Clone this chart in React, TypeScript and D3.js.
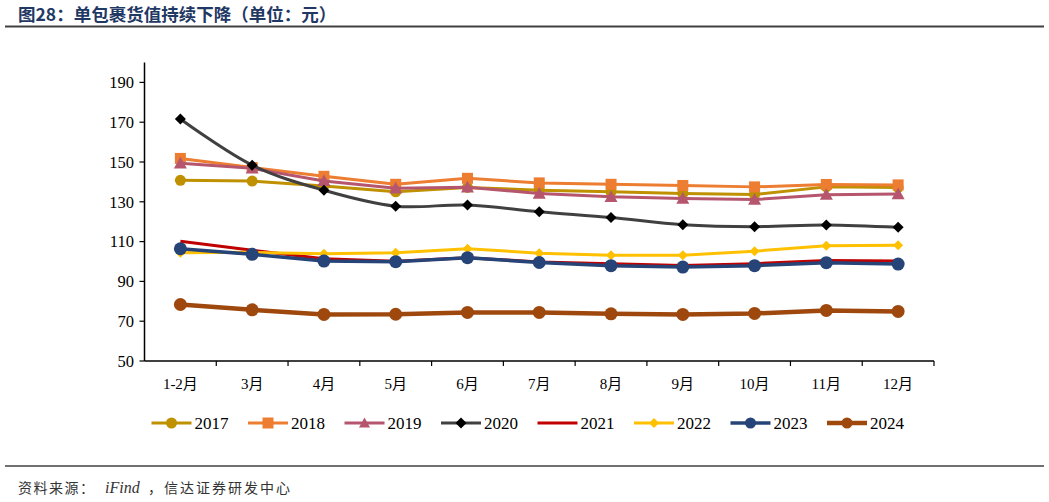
import React from "react";
import * as d3 from "d3";

const categories = ["1-2月", "3月", "4月", "5月", "6月", "7月", "8月", "9月", "10月", "11月", "12月"];
const yTicks = [50, 70, 90, 110, 130, 150, 170, 190];

const v2017 = [140.8, 140.4, 138.0, 135.0, 137.2, 135.8, 135.0, 134.2, 133.7, 137.5, 137.2];
const v2018 = [151.8, 147.2, 142.8, 138.8, 141.8, 139.5, 138.8, 138.2, 137.5, 138.7, 138.5];
const v2019 = [149.4, 146.8, 140.5, 136.8, 137.3, 134.2, 132.5, 131.6, 131.1, 133.6, 133.9];
const v2020 = [171.6, 148.4, 135.8, 127.8, 128.4, 125.0, 122.1, 118.5, 117.5, 118.4, 117.2];
const v2021 = [110.2, 105.6, 101.4, 100.1, 101.9, 99.8, 98.9, 98.0, 98.9, 100.5, 100.2];
const v2022 = [104.4, 104.6, 103.9, 104.4, 106.4, 104.2, 103.2, 103.2, 105.2, 107.9, 108.2];
const v2023 = [106.4, 103.6, 100.2, 99.9, 101.9, 99.5, 97.9, 97.2, 97.9, 99.4, 98.7];
const v2024 = [78.4, 75.7, 73.4, 73.5, 74.4, 74.4, 73.7, 73.4, 73.9, 75.4, 74.9];

type Marker = "circle" | "square" | "triangle" | "diamond" | "none";
interface Series { name: string; values: number[]; color: string; markerColor: string; marker: Marker; size: number; width: number; smooth: boolean; }

const series: Series[] = [
  { name: "2017", values: v2017, color: "#BF9000", markerColor: "#BF9000", marker: "circle", size: 5.5, width: 3, smooth: false },
  { name: "2018", values: v2018, color: "#ED7D31", markerColor: "#ED7D31", marker: "square", size: 5.5, width: 3, smooth: false },
  { name: "2019", values: v2019, color: "#B5566E", markerColor: "#B5566E", marker: "triangle", size: 6.5, width: 3, smooth: false },
  { name: "2020", values: v2020, color: "#404040", markerColor: "#000000", marker: "diamond", size: 5.5, width: 3, smooth: true },
  { name: "2021", values: v2021, color: "#C00000", markerColor: "#C00000", marker: "none", size: 0, width: 3, smooth: false },
  { name: "2022", values: v2022, color: "#FFC000", markerColor: "#FFC000", marker: "diamond", size: 5, width: 3, smooth: false },
  { name: "2023", values: v2023, color: "#264478", markerColor: "#264478", marker: "circle", size: 6.5, width: 3.5, smooth: false },
  { name: "2024", values: v2024, color: "#9E480E", markerColor: "#9E480E", marker: "circle", size: 6.5, width: 4.5, smooth: false },
];

const serif = "'Liberation Serif', 'DejaVu Serif', 'Noto Sans CJK SC', serif";

function MarkerShape({ m, x, y, s, color }: { m: Marker; x: number; y: number; s: number; color: string }) {
  if (m === "circle") return <circle cx={x} cy={y} r={s} fill={color} />;
  if (m === "square") return <rect x={x - s} y={y - s} width={2 * s} height={2 * s} fill={color} />;
  if (m === "triangle") return <path d={`M${x},${y - s}L${x + s},${y + s * 0.8}L${x - s},${y + s * 0.8}Z`} fill={color} />;
  if (m === "diamond") return <path d={`M${x},${y - s}L${x + s},${y}L${x},${y + s}L${x - s},${y}Z`} fill={color} />;
  return null;
}

export default function App() {
  const W = 1049, H = 502;
  const left = 144.5, right = 934, top = 62.5, bottom = 361;
  const x = d3.scaleBand<string>().domain(categories).range([left, right]);
  const y = d3.scaleLinear().domain([50, 200]).range([bottom, top]);
  const cx = (c: string) => (x(c) as number) + x.bandwidth() / 2;

  const legendX0 = 151.5, legendStep = 96.5, legendY = 423;
  const cjk = "'Noto Sans CJK SC', sans-serif";

  return (
    <svg width={W} height={H} style={{ position: "absolute", left: 0, top: 0, background: "#fff" }}>
      <text x={18} y={21} fontFamily={cjk} fontWeight="bold" fontSize={17.5} fill="#1F3864">图28：单包裹货值持续下降（单位：元）</text>
      <line x1={5} x2={1044} y1={26.5} y2={26.5} stroke="#404040" strokeWidth={2} />

      {/* y axis */}
      <line x1={left} x2={left} y1={top} y2={bottom} stroke="#000" strokeWidth={1.5} />
      {yTicks.map((t) => (
        <g key={t}>
          <line x1={left - 5} x2={left} y1={y(t)} y2={y(t)} stroke="#000" strokeWidth={1.2} />
          <text x={134} y={y(t)} dy="0.35em" textAnchor="end" fontFamily={serif} fontSize={16.5} fill="#000">{t}</text>
        </g>
      ))}
      {/* x axis */}
      <line x1={left} x2={right} y1={bottom} y2={bottom} stroke="#000" strokeWidth={1.5} />
      {categories.map((c, i) => (
        <line key={"t" + i} x1={(x(c) as number) + x.bandwidth()} x2={(x(c) as number) + x.bandwidth()} y1={bottom} y2={bottom + 5} stroke="#000" strokeWidth={1.2} />
      ))}
      {categories.map((c) => (
        <text key={c} x={cx(c)} y={389} textAnchor="middle" fontFamily={serif} fontSize={15} fill="#000">{c}</text>
      ))}

      {series.map((s) => {
        const line = d3.line<number>()
          .x((_, i) => cx(categories[i]))
          .y((v) => y(v))
          .curve(s.smooth ? d3.curveCatmullRom.alpha(0.5) : d3.curveLinear);
        return (
          <g key={s.name}>
            <path d={line(s.values) || ""} fill="none" stroke={s.color} strokeWidth={s.width} strokeLinejoin="round" />
            {s.values.map((v, i) => (
              <MarkerShape key={i} m={s.marker} x={cx(categories[i])} y={y(v)} s={s.size} color={s.markerColor} />
            ))}
          </g>
        );
      })}

      {series.map((s, i) => {
        const lx = legendX0 + i * legendStep;
        return (
          <g key={"lg" + s.name}>
            <line x1={lx} x2={lx + 40} y1={legendY} y2={legendY} stroke={s.color} strokeWidth={s.width} />
            <MarkerShape m={s.marker} x={lx + 20} y={legendY} s={s.marker === "none" ? 0 : Math.min(s.size, 5.5)} color={s.markerColor} />
            <text x={lx + 43} y={legendY} dy="0.35em" fontFamily={serif} fontSize={17} fill="#000">{s.name}</text>
          </g>
        );
      })}

      <line x1={5} x2={1044} y1={466} y2={466} stroke="#404040" strokeWidth={1.5} />
      <text x={18} y={493} fontFamily={cjk} fontSize={14} letterSpacing={1.5} fill="#333">资料来源：</text>
      <text x={105} y={493} fontFamily={serif} fontStyle="italic" fontSize={16} fill="#333">iFind</text>
      <text x={148} y={493} fontFamily={cjk} fontSize={14} letterSpacing={2} fill="#333">，信达证券研发中心</text>
    </svg>
  );
}
